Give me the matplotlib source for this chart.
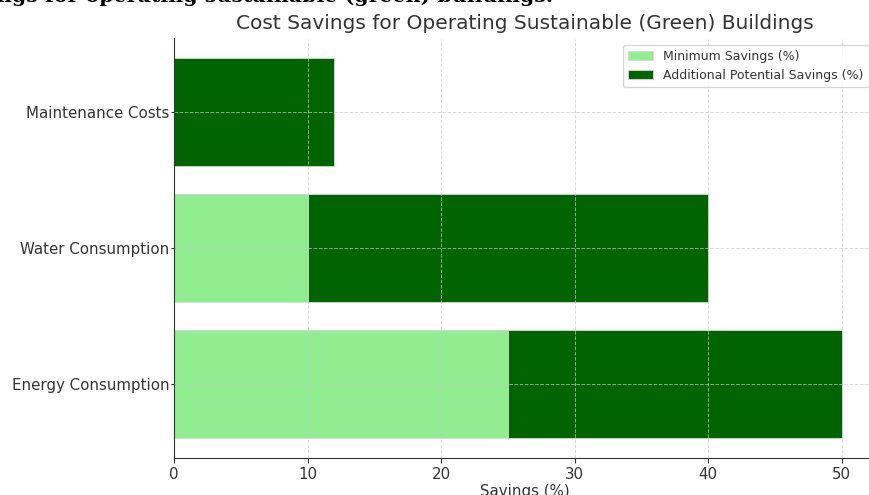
import matplotlib.pyplot as plt

categories = ["Energy Consumption", "Water Consumption", "Maintenance Costs"]
min_savings = [25, 10, 0]
additional_savings = [25, 30, 12]

fig = plt.figure(figsize=(8.69, 4.95), dpi=100)
# axes run past the right edge, as in the cropped screenshot
ax = fig.add_axes([174 / 869, 1 - 457.5 / 495, 701 / 869, 419 / 495])

ax.barh(categories, min_savings, color="lightgreen", edgecolor="#d8d8d8",
        linewidth=0.6, label="Minimum Savings (%)")
ax.barh(categories, additional_savings, left=min_savings, color="darkgreen",
        edgecolor="#d8d8d8", linewidth=0.6, label="Additional Potential Savings (%)")

ax.set_xlim(0, 52.5)
ax.set_xlabel("Savings (%)", fontsize=10.8, color="#333333", labelpad=1)
ax.set_title("Cost Savings for Operating Sustainable (Green) Buildings",
             fontsize=14.5, color="#333333", pad=7)
ax.tick_params(labelsize=10.8, labelcolor="#333333", color="#333333")
ax.tick_params(axis="y", length=2.5, pad=1)
ax.grid(True, linestyle="--", color="#c8c8c8", linewidth=0.7, alpha=0.7)
ax.set_axisbelow(False)
for side in ["top", "right"]:
    ax.spines[side].set_visible(False)
for side in ["left", "bottom"]:
    ax.spines[side].set_color("#333333")
    ax.spines[side].set_zorder(3)
ax.legend(loc="upper right", fontsize=9, labelcolor="#333333")

# caption of the surrounding document, cut off at the top edge
fig.text(553 / 869, 1 - 2.5 / 495,
         "Figure 3: Cost savings for operating sustainable (green) buildings.",
         ha="right", va="baseline", fontsize=14.8, fontweight="bold",
         family="DejaVu Serif")

fig.savefig("out.png", dpi=100)
